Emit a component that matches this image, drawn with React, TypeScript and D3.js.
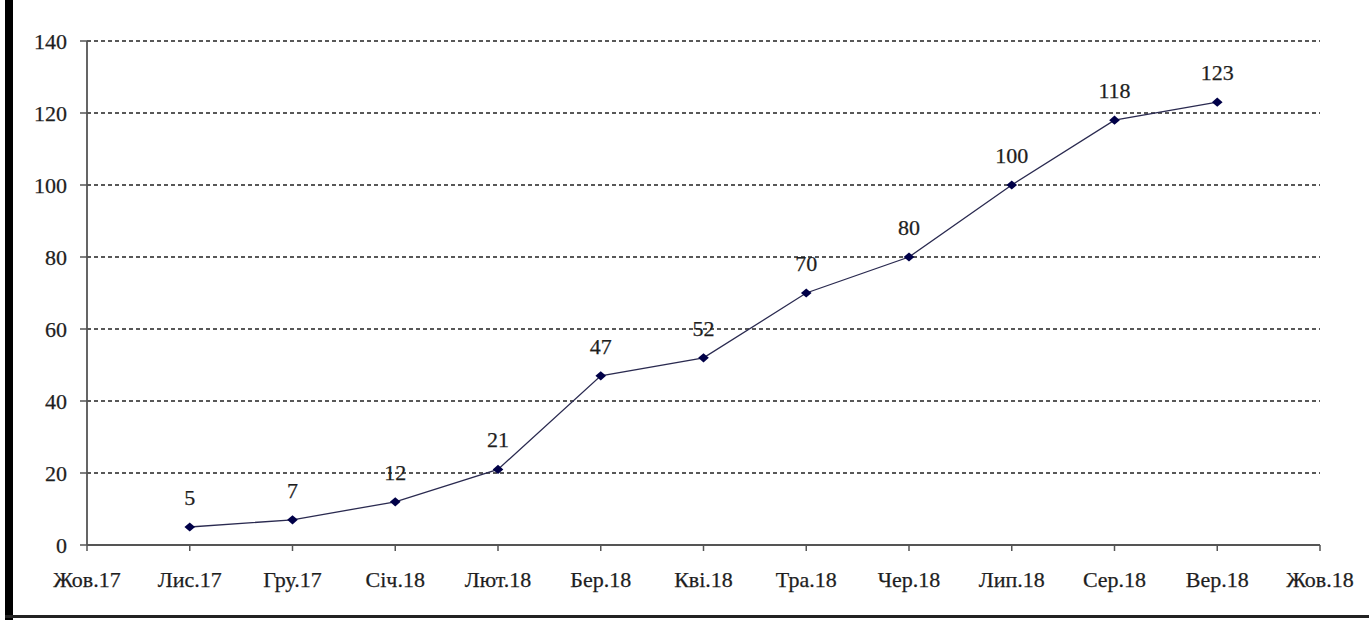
import React from "react";
import * as d3 from "d3";

// Monthly series: Nov 2017 – Sep 2018
const months = [
  "Жов.17", "Лис.17", "Гру.17", "Січ.18", "Лют.18", "Бер.18", "Кві.18",
  "Тра.18", "Чер.18", "Лип.18", "Сер.18", "Вер.18", "Жов.18",
];
const pointMonths = [
  "Лис.17", "Гру.17", "Січ.18", "Лют.18", "Бер.18", "Кві.18",
  "Тра.18", "Чер.18", "Лип.18", "Сер.18", "Вер.18",
];
const values = [5, 7, 12, 21, 47, 52, 70, 80, 100, 118, 123];
const yTicks = [0, 20, 40, 60, 80, 100, 120, 140];

const W = 1369;
const H = 620;
const textStyle: React.CSSProperties = {
  fontFamily: '"Liberation Serif", "DejaVu Serif", serif',
  fontSize: "22px",
  fill: "#1e1e1e",
  stroke: "#1e1e1e",
  strokeWidth: 0.25,
};
const NAVY = "#000048";

export default function App() {
  const x = d3.scalePoint<string>().domain(months).range([87, 1320]);
  const y = d3.scaleLinear().domain([0, 140]).range([545, 41]);

  const pts = pointMonths.map((m, i) => ({ m, v: values[i] }));
  const line = d3
    .line<{ m: string; v: number }>()
    .x((d) => x(d.m)!)
    .y((d) => y(d.v));
  const diamond = d3.symbol().type(d3.symbolDiamond2).size(60)();

  return (
    <svg
      width={W}
      height={H}
      style={{ position: "absolute", left: 0, top: 0, background: "#fff" }}
    >
      {/* frame */}
      <rect x={5} y={0} width={8} height={H} fill="#000" />
      <rect x={5} y={615} width={W - 5} height={3} fill="#222" />

      {/* horizontal gridlines */}
      {yTicks
        .filter((t) => t > 0)
        .map((t) => (
          <line
            key={"g" + t}
            x1={87}
            x2={1320}
            y1={y(t)}
            y2={y(t)}
            stroke="#222"
            strokeWidth={1.5}
            strokeDasharray="4 3"
          />
        ))}

      {/* y axis */}
      <line x1={87} x2={87} y1={y(140)} y2={y(0)} stroke="#555" strokeWidth={1.8} />
      {yTicks.map((t) => (
        <g key={"y" + t}>
          <line x1={80} x2={87} y1={y(t)} y2={y(t)} stroke="#555" strokeWidth={1.5} />
          <text x={67} y={y(t)} dy="0.35em" textAnchor="end" style={textStyle}>
            {t}
          </text>
        </g>
      ))}

      {/* x axis */}
      <line x1={87} x2={1320} y1={y(0)} y2={y(0)} stroke="#555" strokeWidth={1.8} />
      {months.map((m) => (
        <g key={"x" + m}>
          <line x1={x(m)} x2={x(m)} y1={y(0)} y2={y(0) + 6} stroke="#555" strokeWidth={1.5} />
          <text x={x(m)} y={587} textAnchor="middle" style={textStyle}>
            {m}
          </text>
        </g>
      ))}

      {/* series */}
      <path d={line(pts)!} fill="none" stroke="#2a2a50" strokeWidth={1.3} />
      {pts.map((p) => (
        <path
          key={"p" + p.m}
          d={diamond!}
          transform={`translate(${x(p.m)},${y(p.v)}) scale(1.1,0.95)`}
          fill={NAVY}
        />
      ))}
      {pts.map((p) => (
        <text
          key={"l" + p.m}
          x={x(p.m)}
          y={y(p.v) - 22}
          textAnchor="middle"
          style={textStyle}
        >
          {p.v}
        </text>
      ))}
    </svg>
  );
}
